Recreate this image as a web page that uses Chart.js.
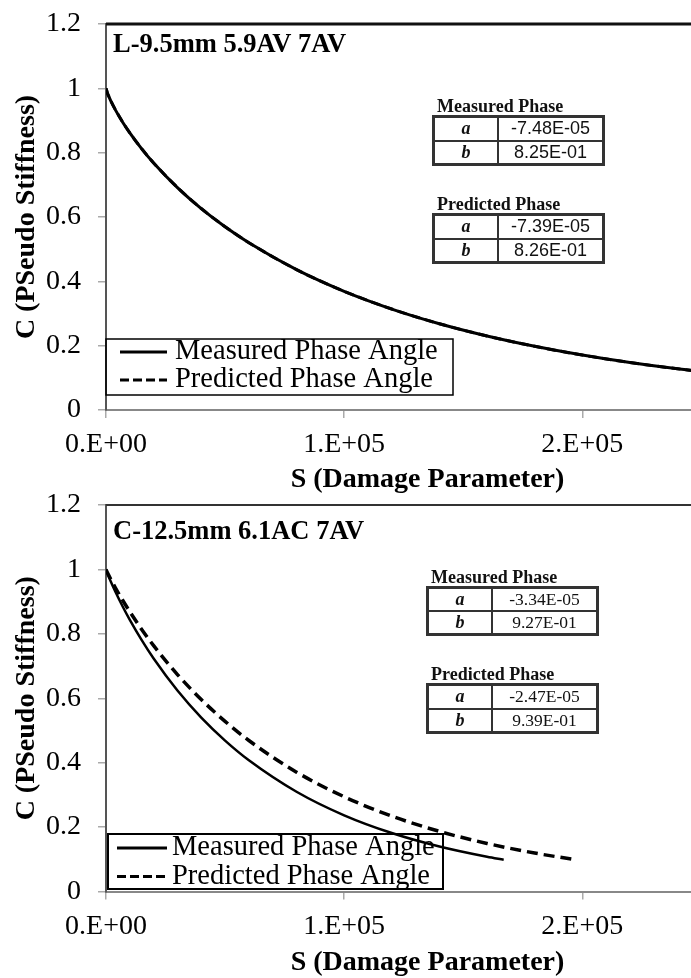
<!DOCTYPE html>
<html>
<head>
<meta charset="utf-8">
<script src="https://cdn.jsdelivr.net/npm/chart.js@4.4.0/dist/chart.umd.min.js"></script>
<style>
    html, body { margin: 0; padding: 0; background: #fff; overflow: hidden; }
    #page { position: relative; width: 691px; height: 978px; overflow: hidden; }
    canvas { position: absolute; left: 0; }
    #topChart { top: 0; }
    #bottomChart { top: 490px; }
    .fit-head {
        position: absolute; font: bold 18px "Liberation Serif", serif;
        line-height: 18px; color: #111; white-space: nowrap;
    }
    table.fit {
        position: absolute; border-collapse: collapse; border: 3px solid #333;
        color: #111; table-layout: fixed;
    }
    table.fit td { border: 2px solid #333; padding: 0; text-align: center; line-height: 20px; }
    table.fit td.p { width: 62px; font: italic bold 18px "Liberation Serif", serif; }
</style>
</head>
<body>
<div id="page">
    <canvas id="topChart" width="749" height="497"></canvas>
    <canvas id="bottomChart" width="749" height="490"></canvas>
    <div id="fits"></div>
</div>
<script>
// Axis ticks
const xTickValues = [0, 100000, 200000];
const xTickLabels = ["0.E+00", "1.E+05", "2.E+05"];
const yTickValues = [0, 0.2, 0.4, 0.6, 0.8, 1, 1.2];
const yTickLabels = ["0", "0.2", "0.4", "0.6", "0.8", "1", "1.2"];
const seriesNames = ["Measured Phase Angle", "Predicted Phase Angle"];

// L-9.5mm 5.9AV 7AV
const topS = [0, 500, 1000, 2000, 4000, 7000, 10000, 15000, 20000, 30000, 40000, 50000,
    60000, 80000, 100000, 120000, 140000, 160000, 180000, 200000, 220000, 240000, 270000];
const topMeasured = [1, 0.9875, 0.9779, 0.9612, 0.9323, 0.8947, 0.8614, 0.8118, 0.7677, 0.6912, 0.6261, 0.5695,
    0.5198, 0.4362, 0.3688, 0.3137, 0.2681, 0.2300, 0.1980, 0.1708, 0.1478, 0.1282, 0.1040];
const topPredicted = [1, 0.9875, 0.9780, 0.9614, 0.9326, 0.8950, 0.8617, 0.8122, 0.7681, 0.6917, 0.6265, 0.5699,
    0.5202, 0.4365, 0.3690, 0.3139, 0.2682, 0.2300, 0.1979, 0.1707, 0.1477, 0.1282, 0.1039];
const topFitMeasured = ["-7.48E-05", "8.25E-01"];
const topFitPredicted = ["-7.39E-05", "8.26E-01"];

// C-12.5mm 6.1AC 7AV
const bottomSMeasured = [0, 500, 1000, 2000, 4000, 7000, 10000, 15000, 20000, 30000, 40000, 50000,
    60000, 80000, 100000, 120000, 140000, 160000, 167000];
const bottomMeasured = [1, 0.9894, 0.9800, 0.9624, 0.9297, 0.8847, 0.8433, 0.7802, 0.7232, 0.6238, 0.5399, 0.4686,
    0.4075, 0.3098, 0.2366, 0.1815, 0.1396, 0.1077, 0.0984];
const bottomSPredicted = [0, 500, 1000, 2000, 4000, 7000, 10000, 15000, 20000, 30000, 40000, 50000,
    60000, 80000, 100000, 120000, 140000, 160000, 180000, 196000];
const bottomPredicted = [1, 0.9916, 0.9839, 0.9694, 0.9422, 0.9042, 0.8687, 0.8137, 0.7634, 0.6736, 0.5960, 0.5282,
    0.4688, 0.3706, 0.2942, 0.2341, 0.1867, 0.1492, 0.1194, 0.1000];
const bottomFitMeasured = ["-3.34E-05", "9.27E-01"];
const bottomFitPredicted = ["-2.47E-05", "9.39E-01"];

const SERIF = "'Liberation Serif', 'Times New Roman', serif";

function points(xs, ys) {
    return xs.map((x, i) => ({ x: x, y: ys[i] }));
}

// Plot frame top edge, panel label and boxed legend
const panelDecor = {
    id: "panelDecor",
    beforeDatasetsDraw(chart, args, opts) {
        const ctx = chart.ctx;
        const area = chart.chartArea;
        ctx.save();
        ctx.strokeStyle = opts.frameColor;
        ctx.lineWidth = opts.frameWidth;
        ctx.beginPath();
        ctx.moveTo(area.left, area.top);
        ctx.lineTo(area.right, area.top);
        ctx.stroke();

        ctx.fillStyle = "#000";
        ctx.font = "bold 26.5px " + SERIF;
        ctx.textBaseline = "alphabetic";
        ctx.fillText(opts.label, area.left + 7, opts.labelY);

        const lg = opts.legend;
        ctx.strokeStyle = "#000";
        ctx.lineWidth = lg.border;
        ctx.strokeRect(lg.left, lg.top, lg.width, lg.height);
        seriesNames.forEach((name, i) => {
            const y = lg.rowY[i];
            ctx.lineWidth = 3;
            ctx.setLineDash(i ? [9, 4] : []);
            ctx.beginPath();
            ctx.moveTo(lg.sampleX[0], y);
            ctx.lineTo(lg.sampleX[1], y);
            ctx.stroke();
            ctx.setLineDash([]);
            ctx.font = "28.5px " + SERIF;
            ctx.textBaseline = "middle";
            ctx.fillText(name, lg.textX, y);
        });
        ctx.restore();
    }
};

function buildChart(canvasId, panel) {
    return new Chart(document.getElementById(canvasId), {
        type: "line",
        data: {
            datasets: [
                {
                    label: seriesNames[0],
                    data: points(panel.sMeasured, panel.measured),
                    borderColor: "#000",
                    borderWidth: panel.solidWidth,
                    pointRadius: 0,
                    cubicInterpolationMode: "monotone"
                },
                {
                    label: seriesNames[1],
                    data: points(panel.sPredicted, panel.predicted),
                    borderColor: "#000",
                    borderWidth: panel.dashWidth,
                    borderDash: panel.dash,
                    pointRadius: 0,
                    cubicInterpolationMode: "monotone"
                }
            ]
        },
        options: {
            responsive: false,
            animation: false,
            devicePixelRatio: 1,
            layout: { padding: { top: panel.padTop, right: 0, bottom: 0, left: 0 } },
            plugins: {
                legend: { display: false },
                tooltip: { enabled: false },
                panelDecor: panel.decor
            },
            scales: {
                x: {
                    type: "linear",
                    min: 0,
                    max: 270000,
                    afterBuildTicks: s => { s.ticks = xTickValues.map(v => ({ value: v })); },
                    afterFit: s => {
                        s.height = panel.xAxisHeight;
                        s.paddingLeft = 0;
                        s.paddingRight = 0;
                    },
                    ticks: {
                        callback: (v, i) => xTickLabels[i],
                        font: { family: SERIF, size: 28 },
                        color: "#000",
                        padding: 10,
                        maxRotation: 0,
                        autoSkip: false
                    },
                    grid: { drawOnChartArea: false, drawTicks: true, tickLength: 8, color: "#aaa", lineWidth: 1.5 },
                    border: { color: "#888", width: 2 },
                    title: {
                        display: true,
                        text: "S (Damage Parameter)",
                        font: { family: SERIF, size: 28, weight: "bold" },
                        color: "#000",
                        padding: { top: 0, bottom: 0 }
                    }
                },
                y: {
                    min: 0,
                    max: 1.2,
                    afterBuildTicks: s => { s.ticks = yTickValues.map(v => ({ value: v })); },
                    afterFit: s => {
                        s.width = 106;
                        s.paddingTop = 0;
                        s.paddingBottom = 0;
                    },
                    ticks: {
                        callback: (v, i) => yTickLabels[i],
                        font: { family: SERIF, size: 28 },
                        color: "#000",
                        padding: 17
                    },
                    grid: { drawOnChartArea: false, drawTicks: true, tickLength: 8, color: "#aaa", lineWidth: 1.5 },
                    border: { color: "#555", width: 2 },
                    title: {
                        display: true,
                        text: "C (PSeudo Stiffness)",
                        font: { family: SERIF, size: 28, weight: "bold" },
                        color: "#000",
                        padding: { top: 10, bottom: 0 }
                    }
                }
            }
        },
        plugins: [panelDecor]
    });
}

function fitTable(title, values, box, font) {
    return `
        <div class="fit-head" style="left:${box.left + 5}px;top:${box.top - 18}px">${title}</div>
        <table class="fit" style="left:${box.left}px;top:${box.top}px;width:${box.width}px;height:${box.height}px">
            <tr><td class="p">a</td><td style="font:${font}">${values[0]}</td></tr>
            <tr><td class="p">b</td><td style="font:${font}">${values[1]}</td></tr>
        </table>`;
}

document.addEventListener("DOMContentLoaded", () => {
    buildChart("topChart", {
        sMeasured: topS, measured: topMeasured,
        sPredicted: topS, predicted: topPredicted,
        solidWidth: 3, dashWidth: 3, dash: [9, 5],
        padTop: 24, xAxisHeight: 87,
        decor: {
            label: "L-9.5mm 5.9AV 7AV", labelY: 52,
            frameColor: "#111", frameWidth: 3,
            legend: { left: 106, top: 339, width: 347, height: 56, border: 1.5,
                rowY: [352, 380], sampleX: [120, 167], textX: 175 }
        }
    });

    buildChart("bottomChart", {
        sMeasured: bottomSMeasured, measured: bottomMeasured,
        sPredicted: bottomSPredicted, predicted: bottomPredicted,
        solidWidth: 2.5, dashWidth: 3.5, dash: [11, 6],
        padTop: 15, xAxisHeight: 88.5,
        decor: {
            label: "C-12.5mm 6.1AC 7AV", labelY: 49,
            frameColor: "#333", frameWidth: 2,
            legend: { left: 108, top: 344, width: 335, height: 55, border: 2,
                rowY: [358, 386.5], sampleX: [117, 167], textX: 172 }
        }
    });

    const sans = "18px 'Liberation Sans', Arial, sans-serif";
    const serif = "17.5px " + SERIF;
    document.getElementById("fits").innerHTML =
        fitTable("Measured Phase", topFitMeasured, { left: 432, top: 115, width: 173, height: 51 }, sans) +
        fitTable("Predicted Phase", topFitPredicted, { left: 432, top: 213, width: 173, height: 51 }, sans) +
        fitTable("Measured Phase", bottomFitMeasured, { left: 426, top: 586, width: 173, height: 50 }, serif) +
        fitTable("Predicted Phase", bottomFitPredicted, { left: 426, top: 683, width: 173, height: 51 }, serif);
});
</script>
</body>
</html>
